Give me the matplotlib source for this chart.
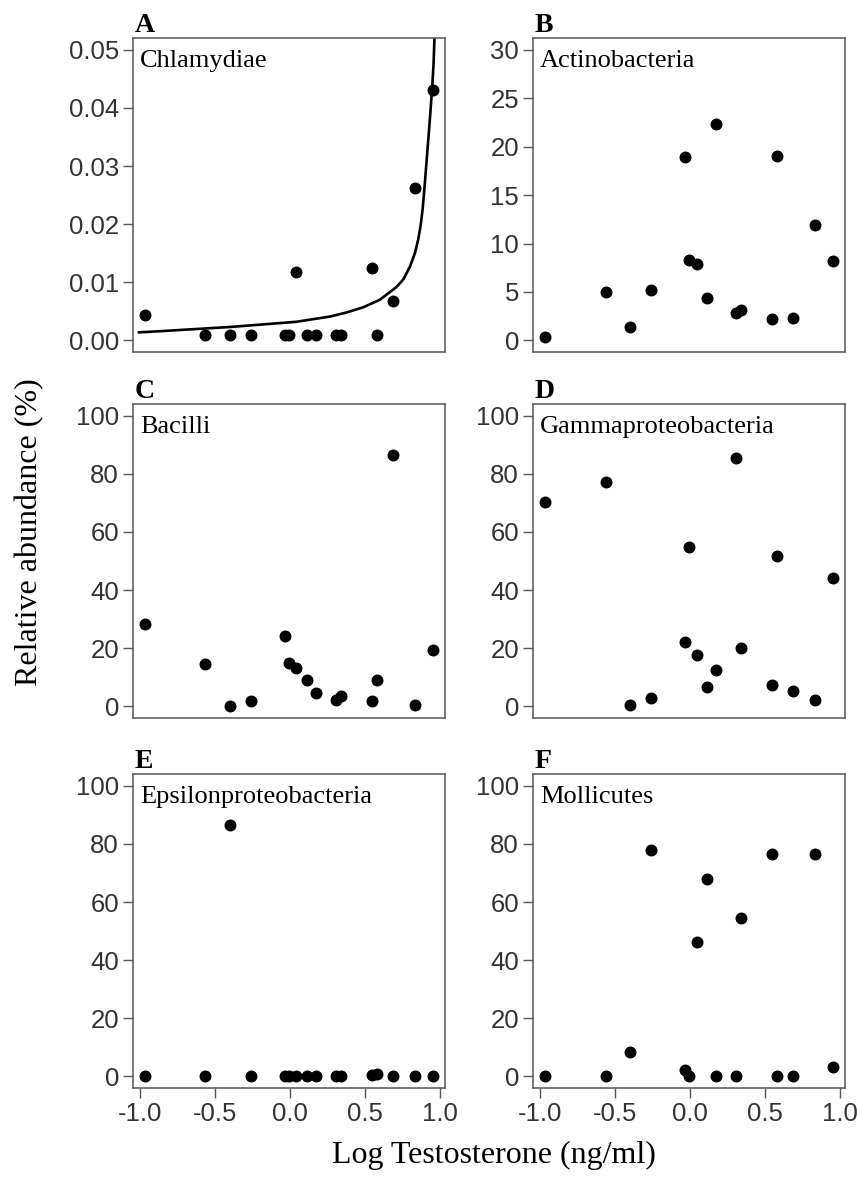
import numpy as np
import matplotlib
matplotlib.use("Agg")
from matplotlib import pyplot as plt

plt.rcParams['axes.unicode_minus'] = False

# log testosterone (ng/ml), shared by all panels
log_t = [-0.967, -0.562, -0.40, -0.256, -0.033, -0.007, 0.044, 0.111,
         0.173, 0.307, 0.34, 0.549, 0.578, 0.689, 0.833, 0.956]

chlamydiae = [0.0044, 0.001, 0.001, 0.001, 0.001, 0.001, 0.0117, 0.001,
              0.001, 0.001, 0.001, 0.0125, 0.001, 0.0068, 0.0262, 0.0431]
actino = [0.34, 4.95, 1.38, 5.23, 18.9, 8.3, 7.9, 4.37,
          22.3, 2.82, 3.1, 2.2, 19.0, 2.3, 11.9, 8.15]
bacilli = [28.3, 14.6, 0.0, 1.7, 24.1, 14.9, 13.2, 9.2,
           4.6, 2.3, 3.4, 1.7, 8.9, 86.6, 0.3, 19.5]
gamma = [70.2, 77.3, 0.3, 2.9, 22.0, 54.7, 17.5, 6.7,
         12.6, 85.4, 20.1, 7.5, 51.6, 5.4, 2.3, 44.2]
epsilon = [0.0, 0.0, 86.5, 0.0, 0.0, 0.0, 0.0, 0.0,
           0.0, 0.0, 0.0, 0.6, 0.8, 0.0, 0.0, 0.0]
mollicutes = [0.0, 0.0, 8.5, 78.0, 2.1, 0.2, 46.4, 67.9,
              0.0, 0.0, 54.5, 76.6, 0.0, 0.0, 76.7, 3.4]

# fitted curve for Chlamydiae
fit_x = [-1.005, -0.845, -0.622, -0.40, -0.178, 0.044, 0.267, 0.378, 0.489,
         0.60, 0.711, 0.756, 0.80, 0.833, 0.856, 0.871, 0.884, 0.895, 0.906,
         0.917, 0.928, 0.938, 0.948, 0.957, 0.963]
fit_y = [0.00138, 0.00161, 0.00196, 0.0023, 0.00275, 0.0032, 0.0041, 0.0048,
         0.0057, 0.0070, 0.0092, 0.0105, 0.0127, 0.0150, 0.0175, 0.0198,
         0.0225, 0.0258, 0.0293, 0.0330, 0.0365, 0.0400, 0.0435, 0.0475,
         0.0520]

letters = ['A', 'B', 'C', 'D', 'E', 'F']
names = ['Chlamydiae', 'Actinobacteria', 'Bacilli', 'Gammaproteobacteria',
         'Epsilonproteobacteria', 'Mollicutes']
series = [chlamydiae, actino, bacilli, gamma, epsilon, mollicutes]
yticks = [[0, 0.01, 0.02, 0.03, 0.04, 0.05], [0, 5, 10, 15, 20, 25, 30]] + \
         [[0, 20, 40, 60, 80, 100]] * 4
ylims = [(-0.002, 0.052), (-1.2, 31.2)] + [(-4, 104)] * 4
xticks = [-1.0, -0.5, 0.0, 0.5, 1.0]

serif = 'Liberation Serif'
sans = 'Liberation Sans'

fig = plt.figure(figsize=(8.59, 11.82), dpi=100)
lefts = [0.1548, 0.6205]
bottoms = [0.7022, 0.3926, 0.0795]
w, h = 0.3632, 0.2655

for i in range(6):
    r, c = divmod(i, 2)
    ax = fig.add_axes([lefts[c], bottoms[r], w, h])
    ax.plot(log_t, series[i], 'o', color='black', markersize=7.6, clip_on=False)
    if i == 0:
        ax.plot(fit_x, fit_y, color='black', lw=1.9)
    ax.set_xlim(-1.045, 1.033)
    ax.set_ylim(*ylims[i])
    ax.set_yticks(yticks[i])
    if i == 0:
        ax.set_yticklabels(['%.2f' % v for v in yticks[i]])
    ax.set_xticks(xticks)
    if r < 2:
        ax.tick_params(axis='x', bottom=False, labelbottom=False)
    else:
        ax.set_xticklabels(['%.1f' % v for v in xticks])
    ax.tick_params(length=7.5, width=1.0, color='#555555', labelcolor='#333333',
                   labelsize=18.5, pad=2.5)
    for lab in ax.get_xticklabels() + ax.get_yticklabels():
        lab.set_fontfamily(sans)
    for s in ax.spines.values():
        s.set_color('#555555')
        s.set_linewidth(1.1)
    ax.text(0.022, 0.962, names[i], transform=ax.transAxes, ha='left', va='top',
            fontsize=19, family=serif)
    ax.text(0.005, 1.02, letters[i], transform=ax.transAxes, ha='left',
            va='baseline', fontsize=20, fontweight='bold', family=serif)

fig.text(0.034, 1 - 532 / 1182, 'Relative abundance (%)', rotation=90,
         ha='center', va='center', fontsize=23, family=serif)
fig.text(0.575, 0.0228, 'Log Testosterone (ng/ml)', ha='center', va='center',
         fontsize=23, family=serif)

fig.savefig('out.png', dpi=100)
